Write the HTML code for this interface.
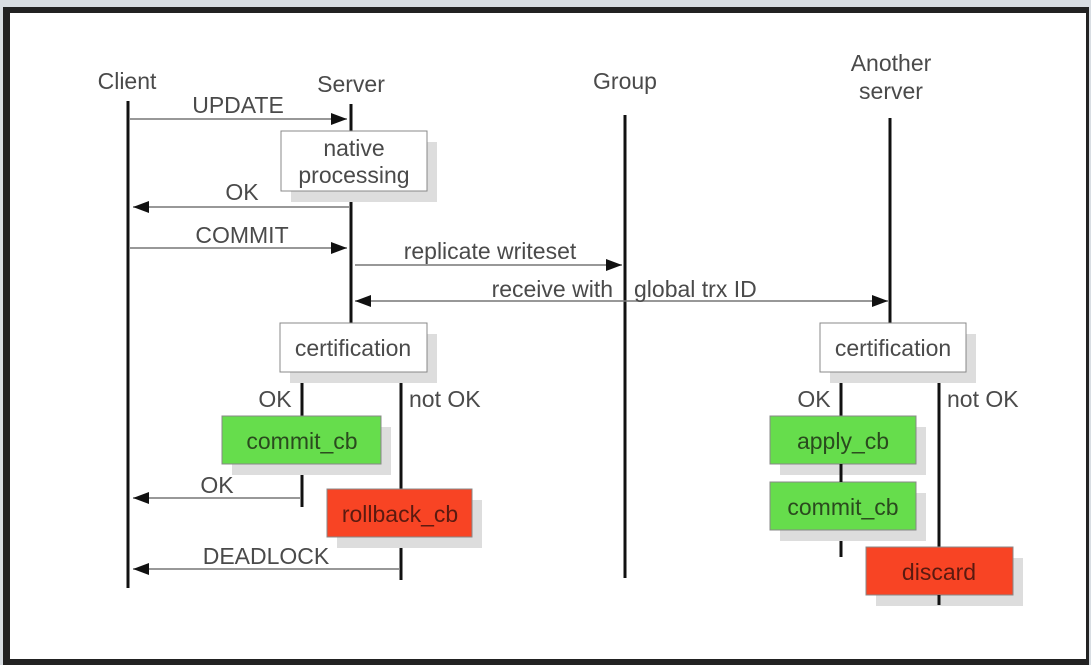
<!DOCTYPE html>
<html><head><style>
html,body{margin:0;padding:0;background:#fff;}
svg{display:block;}
text{font-family:"Liberation Sans",sans-serif;font-size:23px;fill:#4a4a4a;}
</style></head><body>
<svg width="1091" height="665" viewBox="0 0 1091 665" xmlns="http://www.w3.org/2000/svg">
<defs>
<marker id="a" markerWidth="16" markerHeight="12" refX="16" refY="6" orient="auto" markerUnits="userSpaceOnUse">
<path d="M0,0 L16,6 L0,12 z" fill="#111"/></marker>
<marker id="b" markerWidth="16" markerHeight="12" refX="0" refY="6" orient="auto" markerUnits="userSpaceOnUse">
<path d="M16,0 L0,6 L16,12 z" fill="#111"/></marker>
</defs>
<rect x="0" y="0" width="1091" height="665" fill="#d8dde2"/>
<rect x="3" y="7" width="1086" height="658" fill="#222"/>
<rect x="10" y="13" width="1076" height="646" fill="#fff"/>

<text x="127" y="89" text-anchor="middle">Client</text>
<text x="351" y="92" text-anchor="middle">Server</text>
<text x="625" y="89" text-anchor="middle">Group</text>
<text x="891" y="71" text-anchor="middle">Another</text>
<text x="891" y="99" text-anchor="middle">server</text>

<g stroke="#111" stroke-width="3">
<line x1="128" y1="101" x2="128" y2="588"/>
<line x1="351" y1="104" x2="351" y2="325"/>
<line x1="625" y1="115" x2="625" y2="578"/>
<line x1="890" y1="118" x2="890" y2="325"/>
<line x1="302" y1="372" x2="302" y2="507"/>
<line x1="401" y1="372" x2="401" y2="580"/>
<line x1="841" y1="372" x2="841" y2="557"/>
<line x1="939" y1="372" x2="939" y2="605"/>
</g>

<g stroke="#777" stroke-width="1.5" fill="none">
<line x1="130" y1="119" x2="347" y2="119" marker-end="url(#a)"/>
<line x1="349" y1="207" x2="133" y2="207" marker-end="url(#a)"/>
<line x1="130" y1="248" x2="347" y2="248" marker-end="url(#a)"/>
<line x1="355" y1="265" x2="622" y2="265" marker-end="url(#a)"/>
<line x1="355" y1="301" x2="888" y2="301" marker-start="url(#b)" marker-end="url(#a)"/>
<line x1="300" y1="498" x2="133" y2="498" marker-end="url(#a)"/>
<line x1="399" y1="569" x2="133" y2="569" marker-end="url(#a)"/>
</g>

<text x="238" y="113" text-anchor="middle">UPDATE</text>
<text x="242" y="200" text-anchor="middle">OK</text>
<text x="242" y="243" text-anchor="middle">COMMIT</text>
<text x="490" y="259" text-anchor="middle">replicate writeset</text>
<rect x="470" y="277" width="320" height="23" fill="#fff"/>
<line x1="625" y1="277" x2="625" y2="300" stroke="#111" stroke-width="3"/>
<text x="613" y="297" text-anchor="end">receive with</text>
<text x="634" y="297">global trx ID</text>
<text x="275" y="407" text-anchor="middle">OK</text>
<text x="409" y="407">not OK</text>
<text x="217" y="493" text-anchor="middle">OK</text>
<text x="266" y="564" text-anchor="middle">DEADLOCK</text>
<text x="814" y="407" text-anchor="middle">OK</text>
<text x="947" y="407">not OK</text>

<g fill="#ddd">
<rect x="291" y="142" width="146" height="60"/>
<rect x="290" y="334" width="147" height="49"/>
<rect x="232" y="427" width="159" height="48"/>
<rect x="337" y="500" width="145" height="48"/>
<rect x="830" y="334" width="146" height="49"/>
<rect x="780" y="427" width="146" height="48"/>
<rect x="780" y="493" width="146" height="48"/>
<rect x="876" y="558" width="147" height="48"/>
</g>
<g stroke="#888" stroke-width="1">
<rect x="281" y="131" width="146" height="60" fill="#fff"/>
<rect x="280" y="323" width="147" height="49" fill="#fff"/>
<rect x="820" y="323" width="146" height="49" fill="#fff"/>
<rect x="222" y="416" width="159" height="48" fill="#66dd4c"/>
<rect x="770" y="416" width="146" height="48" fill="#66dd4c"/>
<rect x="770" y="482" width="146" height="48" fill="#66dd4c"/>
<rect x="327" y="489" width="145" height="48" fill="#f84424"/>
<rect x="866" y="547" width="147" height="48" fill="#f84424"/>
</g>
<line x1="939" y1="595" x2="939" y2="605" stroke="#111" stroke-width="3"/>
<line x1="841" y1="464" x2="841" y2="482" stroke="#111" stroke-width="3"/>

<text x="354" y="156" text-anchor="middle">native</text>
<text x="354" y="183" text-anchor="middle">processing</text>
<text x="353" y="356" text-anchor="middle">certification</text>
<text x="893" y="356" text-anchor="middle">certification</text>
<text x="302" y="449" text-anchor="middle" style="fill:#2a4a1e">commit_cb</text>
<text x="843" y="449" text-anchor="middle" style="fill:#2a4a1e">apply_cb</text>
<text x="843" y="515" text-anchor="middle" style="fill:#2a4a1e">commit_cb</text>
<text x="400" y="522" text-anchor="middle" style="fill:#5a1a10">rollback_cb</text>
<text x="939" y="580" text-anchor="middle" style="fill:#5a1a10">discard</text>
</svg>
</body></html>
